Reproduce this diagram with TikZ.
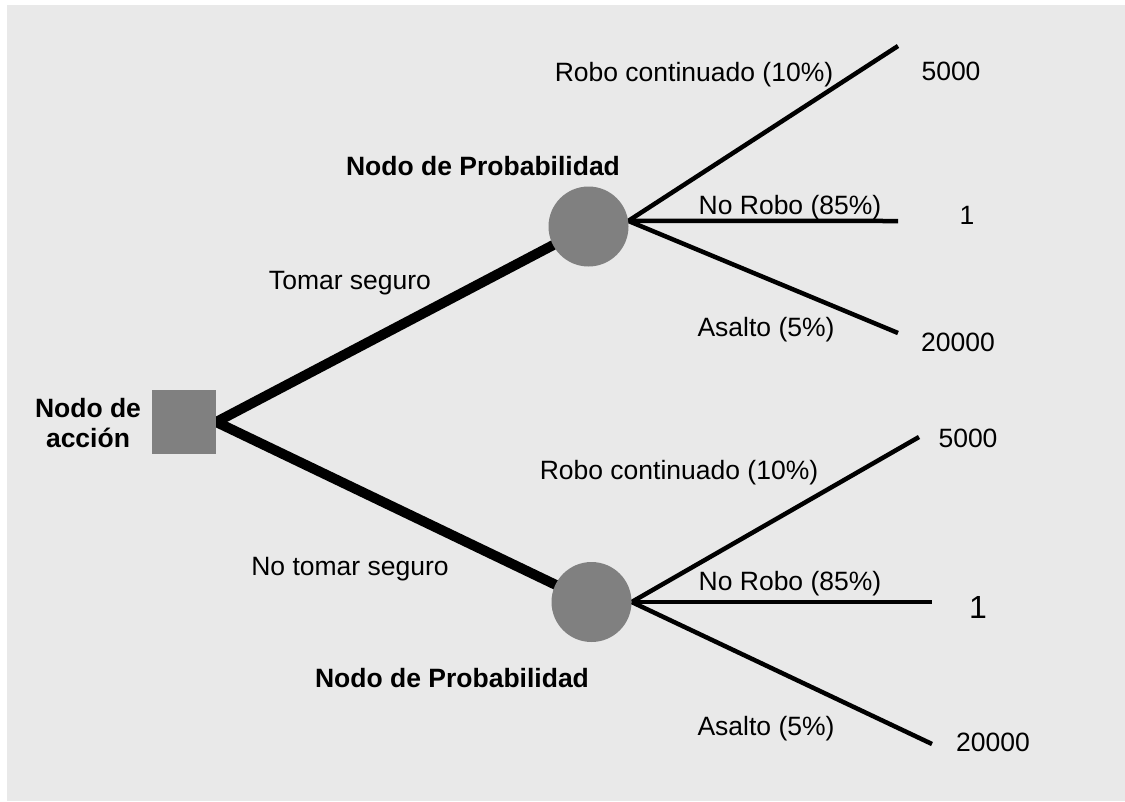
\documentclass[tikz,border=0pt]{standalone}
\usepackage{fontspec}
\setmainfont{Liberation Sans}
\pgfdeclarelayer{bglayer}
\pgfdeclarelayer{linelayer}
\pgfsetlayers{bglayer,linelayer,main}
\definecolor{panel}{RGB}{233,233,233}
\definecolor{nodegray}{RGB}{128,128,128}
\begin{document}
\begin{tikzpicture}[x=1pt,y=-1pt,
  lbl/.style={anchor=base,inner sep=0pt,font=\fontsize{26.5}{30}\selectfont},
  blbl/.style={lbl,font=\fontsize{26.5}{30}\selectfont\bfseries},
  actionbox/.style={rectangle,fill=nodegray,minimum size=64pt,inner sep=0pt},
  chance/.style={circle,fill=nodegray,minimum size=80pt,inner sep=0pt},
  mainedge/.style={line width=10pt},
  branch/.style={line width=4.5pt}]
\useasboundingbox (0,0) rectangle (1125,801);
\begin{pgfonlayer}{bglayer}
  \fill[white] (0,0) rectangle (1125,801);
  \fill[panel] (7,5) rectangle (1125,801);
\end{pgfonlayer}

% decision and chance nodes
\node[actionbox] (act) at (184,422) {};
\node[chance] (c1) at (588.5,226.5) {};
\node[chance] (c2) at (591.5,602) {};

% outcome end points
\coordinate (t1) at (898,46);
\coordinate (t2) at (898,221);
\coordinate (t3) at (898,333);
\coordinate (b1) at (919,437);
\coordinate (b2) at (932,602);
\coordinate (b3) at (932,744);

\begin{pgfonlayer}{linelayer}
  \draw[mainedge] (act.east) -- (c1.center);
  \draw[mainedge] (act.east) -- (c2.center);
  \draw[branch] (c1.8) -- (t1);
  \draw[branch] (c1.8) -- (t2);
  \draw[branch] (c1.8) -- (t3);
  \draw[branch] (c2.east) -- (b1);
  \draw[branch] (c2.east) -- (b2);
  \draw[branch] (c2.east) -- (b3);
\end{pgfonlayer}

% labels
\node[blbl,align=center,anchor=center] (actlbl) at (88,423) {Nodo de\\acción};
\node[lbl] (tomar) at (350,289) {Tomar seguro};
\node[lbl] (notomar) at (350,575) {No tomar seguro};
\node[blbl] (p1) at (483,175) {Nodo de Probabilidad};
\node[blbl] (p2) at (452,687) {Nodo de Probabilidad};

\node[lbl] (tr1) at (694,81) {Robo continuado (10\%)};
\node[lbl] (tr2) at (790,214) {No Robo (85\%)};
\node[lbl] (tr3) at (766,336) {Asalto (5\%)};
\node[lbl] (tv1) at (951,80) {5000};
\node[lbl] (tv2) at (967,224) {1};
\node[lbl] (tv3) at (958,351) {20000};

\node[lbl] (br1) at (679,479) {Robo continuado (10\%)};
\node[lbl] (br2) at (790,590) {No Robo (85\%)};
\node[lbl] (br3) at (766,735) {Asalto (5\%)};
\node[lbl] (bv1) at (968,447) {5000};
\node[lbl,font=\fontsize{32}{36}\selectfont] (bv2) at (978,618) {1};
\node[lbl] (bv3) at (993,751) {20000};
\end{tikzpicture}
\end{document}
